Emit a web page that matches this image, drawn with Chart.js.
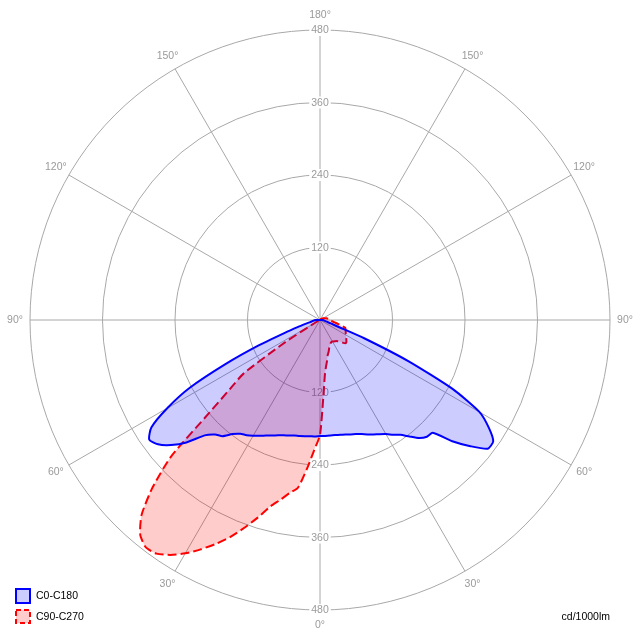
<!DOCTYPE html>
<html><head><meta charset="utf-8">
<script src="https://cdn.jsdelivr.net/npm/chart.js@4.4.1/dist/chart.umd.min.js"></script>
<style>html,body{margin:0;padding:0;background:#fff;}canvas{display:block;}</style>
</head><body>
<canvas id="c" width="640" height="640"></canvas>
<script>
// gamma angles 0..180 step 2.5 (73 samples)
const STEP = 2.5;
const gammaAngles = [];
for (let g = 0; g <= 180; g += STEP) gammaAngles.push(g);

// C0 half-plane (right side), cd/1000lm
const c0 = [192,192,192,192,193,194,196,198,201,205,209,213,218,225,232,243,255,262,264,297,325,350,350,331,305,248,162,80,29,19,13,10,8,7,6,5,5,2,
  0,0,0,0,0,0,0,0,0,0,0,0,0,0,0,0,0,0,0,0,0,0,0,0,0,0,0,0,0,0,0,0,0,0,0];
// C180 half-plane (left side)
const c180 = [193,193,193,194,195,196,198,200,203,207,211,216,221,226,230,238,251,257,270,300,322,338,345,331,292,243,172,110,62,38,25,18,14,12,10,9,8,4,1,
  0,0,0,0,0,0,0,0,0,0,0,0,0,0,0,0,0,0,0,0,0,0,0,0,0,0,0,0,0,0,0,0,0,0,0];
// C90 half-plane (right side)
const c90 = [190,127,92,77,68,59,55,50,46,44,42,41,41,42,43,44,46,48,53,57,57,55,53,51,50,48,47,46,45,44,37,31,26,22,20,18,17,16,16,15,13,12,11,10,9,8,7,6,5,5,4,3,3,2,2,1,1,
  0,0,0,0,0,0,0,0,0,0,0,0,0,0,0,0];
// C270 half-plane (left side)
const c270 = [190,215,247,280,291,305,320,343,366,389,409,428,446,461,472,474,463,437,392,334,240,188,154,68,10,5,3,2,2,1,1,1,1,
  0,0,0,0,0,0,0,0,0,0,0,0,0,0,0,0,0,0,0,0,0,0,0,0,0,0,0,0,0,0,0,0,0,0,0,0,0,0,0,0];

const radialTicks = [120, 240, 360, 480];
const seriesNames = ['C0-C180', 'C90-C270'];
const unitLabel = 'cd/1000lm';

// radar categories: theta measured clockwise from top (top = gamma 180)
const thetas = [];
for (let t = 0; t < 360; t += STEP) thetas.push(t);
function gammaOf(t) { return t <= 180 ? 180 - t : t - 180; }
function buildSeries(right, left) {
  return thetas.map(t => {
    const idx = Math.round(gammaOf(t) / STEP);
    return t <= 180 ? right[idx] : left[idx];
  });
}

const FONT = '10.5px "Liberation Sans", Arial, sans-serif';
const GRID = '#a8a8a8';
const LABEL = '#9a9a9a';

const polarLabels = {
  id: 'polarLabels',
  beforeDatasetsDraw(chart) {
    const sc = chart.scales.r;
    const ctx = chart.ctx;
    ctx.save();
    ctx.font = FONT;
    ctx.textAlign = 'center';
    ctx.textBaseline = 'middle';
    thetas.forEach((t, i) => {
      if (t % 30 !== 0) return;
      const p = sc.getPointPosition(i, sc.drawingArea + 15);
      ctx.fillStyle = LABEL;
      ctx.fillText(gammaOf(t) + '\u00b0', p.x, p.y);
    });
    radialTicks.forEach(v => {
      const d = sc.getDistanceFromCenterForValue(v);
      [sc.yCenter - d, sc.yCenter + d].forEach(y => {
        const txt = String(v);
        const w = ctx.measureText(txt).width;
        ctx.fillStyle = '#ffffff';
        ctx.fillRect(sc.xCenter - w / 2 - 2, y - 6, w + 4, 12);
        ctx.fillStyle = LABEL;
        ctx.fillText(txt, sc.xCenter, y + 0.5);
      });
    });
    ctx.restore();
  },
  afterDraw(chart) {
    const ctx = chart.ctx;
    ctx.save();
    ctx.lineWidth = 2;
    ctx.fillStyle = 'rgba(0,0,255,0.2)';
    ctx.fillRect(16, 589, 14, 14);
    ctx.strokeStyle = '#0000ff';
    ctx.strokeRect(16, 589, 14, 14);
    ctx.fillStyle = 'rgba(255,0,0,0.2)';
    ctx.fillRect(16, 610, 14, 13);
    ctx.strokeStyle = '#ff0000';
    ctx.setLineDash([5, 3]);
    ctx.strokeRect(16, 610, 14, 13);
    ctx.setLineDash([]);
    ctx.font = FONT;
    ctx.fillStyle = '#000';
    ctx.textAlign = 'left';
    ctx.textBaseline = 'middle';
    ctx.fillText(seriesNames[0], 36, 596);
    ctx.fillText(seriesNames[1], 36, 617);
    ctx.textAlign = 'right';
    ctx.fillText(unitLabel, 610, 617);
    ctx.restore();
  }
};

new Chart(document.getElementById('c'), {
  type: 'radar',
  data: {
    labels: thetas,
    datasets: [
      {
        label: seriesNames[0],
        data: buildSeries(c0, c180),
        borderColor: '#0000ff',
        backgroundColor: 'rgba(0,0,255,0.2)',
        borderWidth: 2,
        fill: 'start'
      },
      {
        label: seriesNames[1],
        data: buildSeries(c90, c270),
        borderColor: '#ff0000',
        backgroundColor: 'rgba(255,0,0,0.2)',
        borderWidth: 2,
        borderDash: [9, 4],
        fill: 'start'
      }
    ]
  },
  options: {
    responsive: false,
    animation: false,
    layout: { padding: 30 },
    plugins: { legend: { display: false }, tooltip: { enabled: false } },
    elements: { point: { radius: 0, hitRadius: 0, hoverRadius: 0 }, line: { tension: 0.2, borderJoinStyle: 'round' } },
    scales: {
      r: {
        min: 0, max: 480,
        ticks: { display: false, stepSize: 120 },
        grid: { circular: true, color: GRID, lineWidth: 1 },
        angleLines: {
          display: true,
          color: ctx => (ctx.index % 12 === 0 ? GRID : 'rgba(0,0,0,0)'),
          lineWidth: ctx => (ctx.index % 12 === 0 ? 1 : 0)
        },
        pointLabels: { display: false }
      }
    }
  },
  plugins: [polarLabels]
});
</script>
</body></html>
